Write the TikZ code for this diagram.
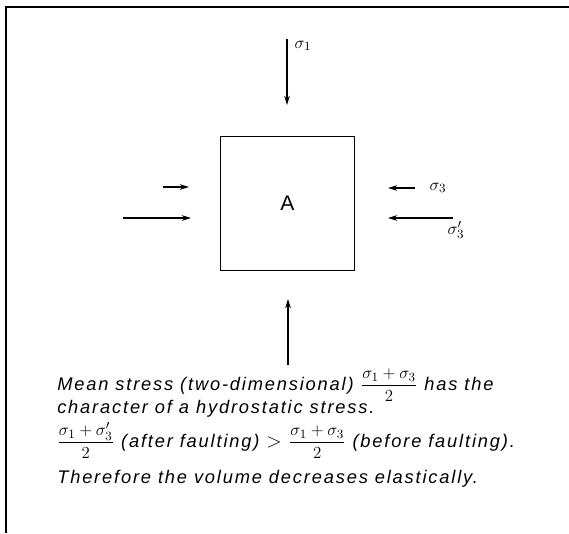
\documentclass[tikz,border=0pt]{standalone}
\usepackage{amsmath}
\usepackage{fontspec}
\setsansfont{Liberation Sans}
\newfontfamily\lettering[LetterSpace=10]{Liberation Sans}
\usetikzlibrary{arrows.meta,positioning}

\begin{document}
\begin{tikzpicture}[x=0.025cm,y=-0.025cm,>={Stealth[length=6.5pt,width=4pt]},
 force/.style={->,line width=0.9pt},
 lbl/.style={inner sep=0pt,font=\fontsize{13}{13}\selectfont},
 note/.style={anchor=base west,inner sep=0pt,font=\lettering\itshape\fontsize{13}{15}\selectfont}]
\useasboundingbox (0,0) rectangle (569,533);
% frame
\draw[line width=0.8pt] (569,7) -| (6,533);
% element A
\node[draw,line width=0.7pt,minimum width=3.325cm,minimum height=3.325cm,
 font=\sffamily\fontsize{15}{15}\selectfont] (blk) at (287.5,203.5) {A};
% arrow ends
\coordinate (t0) at (287,39);  \coordinate (t1) at (287,105);
\coordinate (b0) at (288,365); \coordinate (b1) at (288,299);
\coordinate (l0) at (163,187); \coordinate (l1) at (189,187);
\coordinate (m0) at (123,218); \coordinate (m1) at (191,218);
\coordinate (r0) at (415,188); \coordinate (r1) at (388,188);
\coordinate (q0) at (453,218); \coordinate (q1) at (388,218);
\draw[force] (t0)--(t1); \draw[force] (b0)--(b1);
\draw[force] (l0)--(l1); \draw[force] (m0)--(m1);
\draw[force] (r0)--(r1); \draw[force] (q0)--(q1);
\node[lbl] (s1) at (303,46) {$\sigma_1$};
\node[lbl] (s3) at (438,188) {$\sigma_3$};
\node[lbl] (s3p) at (456,230) {$\sigma_3'$};
% text
\node[note] (n1) at (57,390) {Mean stress (two-dimensional) $\dfrac{\sigma_1+\sigma_3}{2}$ has the};
\node[note] (n2) at (57,413) {character of a hydrostatic stress.};
\node[note] (n3) at (57,447) {$\dfrac{\sigma_1+\sigma_3'}{2}$ (after faulting) {\Large$>$} $\dfrac{\sigma_1+\sigma_3}{2}$ (before faulting).};
\node[note] (n4) at (57,483) {Therefore the volume decreases elastically.};
\end{tikzpicture}
\end{document}
